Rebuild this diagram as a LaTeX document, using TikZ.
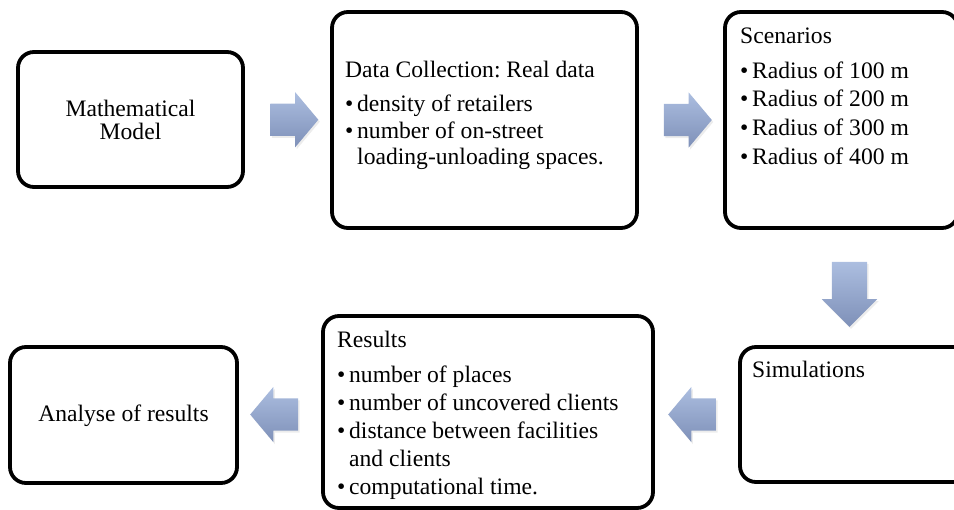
\documentclass[tikz,border=0pt]{standalone}
\usepackage{fontspec}
\setmainfont{Liberation Serif}
\usetikzlibrary{shapes.arrows,shadows,calc}
\frenchspacing
\definecolor{arrtop}{RGB}{172,190,224}
\definecolor{arrbot}{RGB}{126,144,184}
\newcommand{\bul}{\makebox[12pt][l]{\textbullet}}
\newcommand{\hng}{\hspace*{12pt}}
\tikzset{
  box/.style={draw=black, line width=3.8pt, rounded corners=16pt, fill=white, inner sep=0pt},
  txt/.style={inner sep=0pt, anchor=base west},
  blockarrow/.style={single arrow, draw=none, top color=arrtop, bottom color=arrbot,
    inner xsep=0pt, inner ysep=16pt, minimum height=48pt, minimum width=55pt,
    single arrow head extend=11.5pt, single arrow tip angle=100,
    drop shadow={shadow xshift=1.5pt, shadow yshift=-2pt, opacity=0.15}},
  downarrow/.style={blockarrow, shape border rotate=270, inner xsep=17.5pt, inner ysep=0pt,
    minimum height=65pt, single arrow head extend=10pt, single arrow tip angle=90}
}
\begin{document}
\begin{tikzpicture}[x=1pt, y=-1pt]
\useasboundingbox (0,0) rectangle (954,510);
\clip (0,0) rectangle (954,510);
% boxes
\node[box, minimum width=225pt, minimum height=135pt] (b1) at (130.5,119.5) {};
\node[box, minimum width=305pt, minimum height=216pt] (b2) at (484.5,120) {};
\node[box, minimum width=233pt, minimum height=216pt] (b3) at (841.5,120) {};
\node[box, minimum width=235pt, minimum height=135pt] (b4) at (857.5,414.5) {};
\node[box, minimum width=330pt, minimum height=192pt] (b5) at (488,412) {};
\node[box, minimum width=227pt, minimum height=136pt] (b6) at (123.5,415) {};
% texts
\node[inner sep=0pt, align=center, font=\fontsize{23.6}{23}\selectfont] (t1) at (b1.center) {Mathematical\\Model};
\node[txt, font=\fontsize{23.6}{26.5}\selectfont] (t2) at (345,78)
  {\parbox[t]{290pt}{Data Collection: Real data\\[7.5pt]
   \bul density of retailers\\
   \bul number of on-street\\
   \hng loading-unloading spaces.}};
\node[txt, font=\fontsize{23.6}{28.7}\selectfont] (t3) at (740,43.3)
  {\parbox[t]{210pt}{Scenarios\\[6.3pt]
   \bul Radius of 100 m\\
   \bul Radius of 200 m\\
   \bul Radius of 300 m\\
   \bul Radius of 400 m}};
\node[txt, font=\fontsize{23.6}{28}\selectfont] (t4) at (752,378) {Simulations};
\node[txt, font=\fontsize{23.6}{28}\selectfont] (t5) at (337,348)
  {\parbox[t]{310pt}{Results\\[7pt]
   \bul number of places\\
   \bul number of uncovered clients\\
   \bul distance between facilities\\
   \hng and clients\\
   \bul computational time.}};
\node[inner sep=0pt, font=\fontsize{23.6}{28}\selectfont] (t6) at ([yshift=-1pt]b6.center) {Analyse of results};
% block arrows
\node[blockarrow] (a1) at ($(b1.east)!0.5!(b2.west)$) {};
\node[blockarrow] (a2) at ($(b2.east)!0.5!(b3.west)$) {};
\node[downarrow] (a3) at (849.5,285.5) {};
\node[blockarrow, shape border rotate=180] (a4) at (699,414.5) {};
\node[blockarrow, shape border rotate=180] (a5) at (281,414.5) {};
\end{tikzpicture}
\end{document}
